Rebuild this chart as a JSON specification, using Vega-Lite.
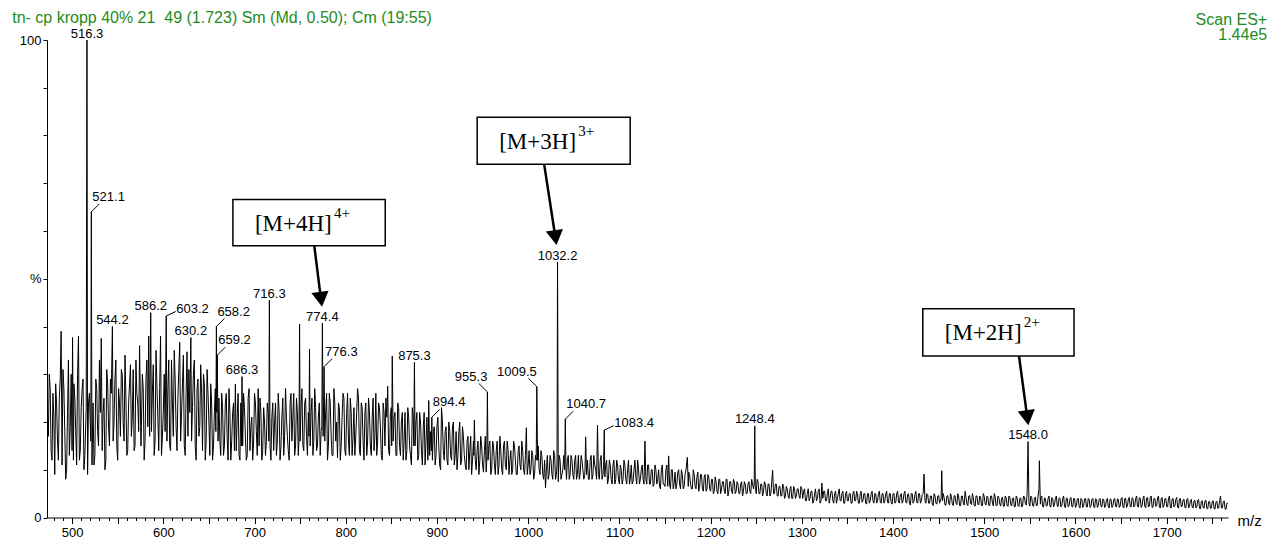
{
"$schema": "https://vega.github.io/schema/vega-lite/v6.json",
"width": 1181, "height": 477.5,
"autosize": "none",
"padding": {"left": 47, "top": 40, "right": 47, "bottom": 24.5},
"background": "white",
"config": {"view": {"stroke": null}, "axis": {"labelFont": "Liberation Sans", "titleFont": "Liberation Sans", "labelColor": "black", "tickColor": "black", "domainColor": "black", "grid": false, "ticks": true, "tickWidth": 1, "tickOpacity": 1, "domainWidth": 1}, "text": {"font": "Liberation Sans"}},
"datasets": {
"spec": [
{"mz":473,"i":22},{"mz":475,"i":30},{"mz":477,"i":14},{"mz":479,"i":26},{"mz":481,"i":9},{"mz":483,"i":24},{"mz":485,"i":12},{"mz":487,"i":29},{"mz":488,"i":39},{"mz":489,"i":11},
{"mz":491,"i":27},{"mz":493,"i":8},{"mz":495,"i":22},{"mz":497,"i":13},{"mz":499,"i":30},{"mz":500.5,"i":37.7},{"mz":501.5,"i":12},{"mz":503,"i":25},{"mz":505,"i":11},{"mz":507,"i":38},
{"mz":509,"i":14},{"mz":511,"i":27},{"mz":513,"i":10},{"mz":515.5,"i":23},{"mz":516.3,"i":100},{"mz":517,"i":9},{"mz":519,"i":26},{"mz":520.5,"i":16},{"mz":521.1,"i":64},{"mz":521.8,"i":11},
{"mz":523,"i":24},{"mz":525,"i":13},{"mz":527,"i":27},{"mz":529,"i":15},{"mz":531,"i":22},{"mz":532,"i":37.5},{"mz":533,"i":14},{"mz":535,"i":25},{"mz":537,"i":12},{"mz":539,"i":28},
{"mz":541,"i":15},{"mz":543,"i":26},{"mz":544.2,"i":40},{"mz":545,"i":16},{"mz":547,"i":29},{"mz":549,"i":15},{"mz":551,"i":27},{"mz":553,"i":17},{"mz":555,"i":30},{"mz":557,"i":16},
{"mz":559,"i":25},{"mz":561,"i":14},{"mz":563,"i":28},{"mz":565,"i":17},{"mz":567,"i":31},{"mz":569,"i":15},{"mz":571,"i":26},{"mz":573,"i":18},{"mz":574,"i":36},{"mz":575.5,"i":15},
{"mz":577,"i":30},{"mz":579,"i":12},{"mz":581,"i":29},{"mz":583,"i":19},{"mz":584,"i":38},{"mz":585,"i":17},{"mz":586.2,"i":42.9},{"mz":587,"i":18},{"mz":589,"i":32},{"mz":591,"i":16},
{"mz":593,"i":28},{"mz":595,"i":14},{"mz":597,"i":38},{"mz":599,"i":17},{"mz":601,"i":30},{"mz":602,"i":18},{"mz":603.2,"i":42.2},{"mz":604,"i":16},{"mz":605,"i":27},{"mz":607,"i":15},
{"mz":609,"i":33},{"mz":611,"i":17},{"mz":613,"i":29},{"mz":615,"i":14},{"mz":617,"i":31},{"mz":618,"i":36.7},{"mz":619,"i":16},{"mz":621,"i":28},{"mz":623,"i":15},{"mz":625,"i":26},
{"mz":626,"i":34.7},{"mz":627,"i":17},{"mz":629,"i":22},{"mz":630.2,"i":37.7},{"mz":631,"i":16},{"mz":633,"i":30},{"mz":635,"i":15},{"mz":637,"i":27},{"mz":639,"i":17},{"mz":641,"i":32},
{"mz":643,"i":14},{"mz":645,"i":28},{"mz":647,"i":16},{"mz":649,"i":26},{"mz":651,"i":13},{"mz":653,"i":24},{"mz":655,"i":15},{"mz":657,"i":27},{"mz":657.6,"i":18},{"mz":658.2,"i":40},
{"mz":658.7,"i":22},{"mz":659.2,"i":34},{"mz":660,"i":16},{"mz":661,"i":25},{"mz":663,"i":13},{"mz":665,"i":23},{"mz":667,"i":15},{"mz":669,"i":26},{"mz":671,"i":12},{"mz":673,"i":22},
{"mz":675,"i":16},{"mz":677,"i":24},{"mz":678,"i":14},{"mz":679,"i":27.9},{"mz":680,"i":14},{"mz":681,"i":21},{"mz":683,"i":13},{"mz":685,"i":24},{"mz":685.6,"i":15},{"mz":686.3,"i":29.5},
{"mz":687,"i":15},{"mz":689,"i":23},{"mz":691,"i":12},{"mz":693,"i":25},{"mz":695,"i":14},{"mz":697,"i":21},{"mz":699,"i":16},{"mz":701,"i":24},{"mz":703,"i":13},{"mz":704,"i":27},
{"mz":705,"i":15},{"mz":707,"i":22},{"mz":709,"i":14},{"mz":711,"i":20},{"mz":713,"i":16},{"mz":715,"i":22},{"mz":715.7,"i":16},{"mz":716.3,"i":45.5},{"mz":717,"i":15},{"mz":719,"i":21},
{"mz":721,"i":14},{"mz":723,"i":24},{"mz":725,"i":16},{"mz":727,"i":22},{"mz":729,"i":15},{"mz":731,"i":25},{"mz":733,"i":17},{"mz":735,"i":21},{"mz":737,"i":14},{"mz":739,"i":24},
{"mz":741,"i":16},{"mz":743,"i":26},{"mz":745,"i":15},{"mz":747,"i":22},{"mz":748.7,"i":16},{"mz":749.4,"i":40.5},{"mz":750,"i":16},{"mz":751,"i":23},{"mz":753,"i":15},{"mz":755,"i":24},
{"mz":757,"i":17},{"mz":759,"i":22},{"mz":759.7,"i":17},{"mz":760.3,"i":35.3},{"mz":761,"i":15},{"mz":763,"i":25},{"mz":765,"i":16},{"mz":767,"i":23},{"mz":769,"i":15},{"mz":771,"i":24},
{"mz":773,"i":18},{"mz":773.8,"i":19},{"mz":774.4,"i":40.7},{"mz":775.2,"i":17},{"mz":776.3,"i":31.6},{"mz":777,"i":16},{"mz":779,"i":26},{"mz":781,"i":15},{"mz":783,"i":24},{"mz":785,"i":13},
{"mz":787,"i":27},{"mz":789,"i":16},{"mz":791,"i":12.5},{"mz":793,"i":23},{"mz":795,"i":15},{"mz":797,"i":26},{"mz":799,"i":14},{"mz":801,"i":22},{"mz":803,"i":16},{"mz":805,"i":25},
{"mz":807,"i":13},{"mz":809,"i":23},{"mz":811,"i":17},{"mz":813,"i":27},{"mz":815,"i":14},{"mz":817,"i":24},{"mz":819,"i":16},{"mz":821,"i":22},{"mz":823,"i":13},{"mz":825,"i":25},
{"mz":827,"i":15},{"mz":829,"i":21},{"mz":831,"i":14},{"mz":833,"i":26},{"mz":835,"i":16},{"mz":837,"i":23},{"mz":839,"i":13},{"mz":841,"i":24},{"mz":843,"i":15},{"mz":845,"i":21},
{"mz":846,"i":27.5},{"mz":847,"i":14},{"mz":849,"i":22},{"mz":850.4,"i":15},{"mz":851,"i":33.8},{"mz":852,"i":16},{"mz":853,"i":21},{"mz":855,"i":13},{"mz":857,"i":24},{"mz":859,"i":15},
{"mz":861,"i":20},{"mz":863,"i":12},{"mz":865,"i":22},{"mz":867,"i":14},{"mz":869,"i":21},{"mz":871,"i":13},{"mz":873,"i":23},{"mz":874.6,"i":15},{"mz":875.3,"i":32.5},{"mz":876,"i":15},
{"mz":877,"i":20},{"mz":879,"i":12},{"mz":881,"i":22},{"mz":883,"i":14},{"mz":885,"i":19},{"mz":887,"i":11},{"mz":889,"i":21},{"mz":890.4,"i":14},{"mz":891,"i":24.5},{"mz":892,"i":13},
{"mz":893,"i":18},{"mz":893.8,"i":14},{"mz":894.4,"i":21},{"mz":895,"i":12},{"mz":897,"i":19},{"mz":899,"i":13},{"mz":901,"i":21},{"mz":903,"i":11},{"mz":905,"i":23},{"mz":907,"i":14},
{"mz":909,"i":18},{"mz":911,"i":12},{"mz":913,"i":20},{"mz":915,"i":13},{"mz":917,"i":19},{"mz":919,"i":11},{"mz":921,"i":18},{"mz":923,"i":13},{"mz":925,"i":20},{"mz":927,"i":12},
{"mz":929,"i":17},{"mz":931,"i":11},{"mz":933,"i":16},{"mz":935,"i":10},{"mz":937,"i":17},{"mz":939,"i":12},{"mz":940.4,"i":13},{"mz":941,"i":20.4},{"mz":942,"i":12},{"mz":943,"i":10},
{"mz":945,"i":16},{"mz":947,"i":12},{"mz":949,"i":15},{"mz":951,"i":9.5},{"mz":953,"i":17},{"mz":954.6,"i":12},{"mz":955.3,"i":26.3},{"mz":956,"i":12},{"mz":957,"i":15},{"mz":959,"i":9},
{"mz":961,"i":16},{"mz":963,"i":11},{"mz":965,"i":14},{"mz":967,"i":9},{"mz":969,"i":17},{"mz":971,"i":10},{"mz":973,"i":15},{"mz":975,"i":11},{"mz":977,"i":16},{"mz":979,"i":9},
{"mz":981,"i":14},{"mz":983,"i":10},{"mz":985,"i":15},{"mz":987,"i":9},{"mz":989,"i":14},{"mz":991,"i":11},{"mz":993,"i":16},{"mz":995,"i":10},{"mz":997,"i":13},{"mz":998,"i":18.8},
{"mz":999,"i":9},{"mz":1001,"i":14},{"mz":1003,"i":10},{"mz":1005,"i":13},{"mz":1007,"i":9},{"mz":1008.8,"i":12},{"mz":1009.5,"i":27.4},{"mz":1010.3,"i":12},{"mz":1011,"i":15},{"mz":1013,"i":9},
{"mz":1015,"i":13},{"mz":1017,"i":8},{"mz":1019,"i":6.2},{"mz":1021,"i":13},{"mz":1023,"i":9},{"mz":1025,"i":12},{"mz":1027,"i":8},{"mz":1029,"i":13},{"mz":1031,"i":9},{"mz":1031.6,"i":11},
{"mz":1032.2,"i":53.5},{"mz":1033,"i":7.5},{"mz":1035,"i":12},{"mz":1037,"i":9},{"mz":1039,"i":13},{"mz":1040,"i":10},{"mz":1040.7,"i":20.6},{"mz":1041.5,"i":10},{"mz":1043,"i":12},{"mz":1045,"i":8},
{"mz":1047,"i":13},{"mz":1049,"i":9},{"mz":1051,"i":12},{"mz":1053,"i":8},{"mz":1055,"i":13},{"mz":1057,"i":9},{"mz":1059,"i":12},{"mz":1061,"i":8},{"mz":1062.3,"i":10},{"mz":1063,"i":16.9},
{"mz":1064,"i":9},{"mz":1065,"i":12},{"mz":1067,"i":8},{"mz":1069,"i":13},{"mz":1071,"i":9},{"mz":1073,"i":11},{"mz":1075,"i":8},{"mz":1076,"i":19.3},{"mz":1077,"i":9},{"mz":1079,"i":12},
{"mz":1081,"i":8},{"mz":1082.7,"i":11},{"mz":1083.4,"i":18.3},{"mz":1084,"i":8.5},{"mz":1085,"i":11},{"mz":1087,"i":7},{"mz":1089,"i":12},{"mz":1091,"i":8},{"mz":1093,"i":11},{"mz":1095,"i":7},
{"mz":1097,"i":12},{"mz":1099,"i":8},{"mz":1101,"i":11},{"mz":1103,"i":7},{"mz":1105,"i":12},{"mz":1107,"i":8},{"mz":1109,"i":10},{"mz":1111,"i":7},{"mz":1113,"i":11},{"mz":1115,"i":7.5},
{"mz":1117,"i":12},{"mz":1119,"i":7},{"mz":1121,"i":10},{"mz":1123,"i":8},{"mz":1125,"i":11},{"mz":1127,"i":7},{"mz":1128,"i":16},{"mz":1129,"i":8},{"mz":1131,"i":11},{"mz":1133,"i":7},
{"mz":1135,"i":10},{"mz":1137,"i":6.5},{"mz":1139,"i":11},{"mz":1141,"i":7},{"mz":1143,"i":10},{"mz":1145,"i":6},{"mz":1147,"i":11},{"mz":1149,"i":7},{"mz":1151,"i":10},{"mz":1153,"i":6.5},
{"mz":1154,"i":12.9},{"mz":1155,"i":7},{"mz":1157,"i":10},{"mz":1159,"i":6},{"mz":1161,"i":9.5},{"mz":1163,"i":7},{"mz":1165,"i":10},{"mz":1167,"i":6},{"mz":1169,"i":9},{"mz":1171,"i":6.5},
{"mz":1173,"i":10},{"mz":1174.5,"i":12.6},{"mz":1175.5,"i":6.5},{"mz":1177,"i":9},{"mz":1179,"i":6},{"mz":1181,"i":10},{"mz":1183,"i":6.5},{"mz":1185,"i":8.5},{"mz":1187,"i":5.5},{"mz":1189,"i":9},
{"mz":1191,"i":6},{"mz":1193,"i":8.5},{"mz":1195,"i":5.5},{"mz":1197,"i":9},{"mz":1199,"i":6},{"mz":1201,"i":8},{"mz":1203,"i":5},{"mz":1205,"i":8.5},{"mz":1207,"i":5.5},{"mz":1209,"i":8},
{"mz":1211,"i":5},{"mz":1213,"i":7.5},{"mz":1215,"i":5.5},{"mz":1217,"i":8},{"mz":1219,"i":4.5},{"mz":1221,"i":7.5},{"mz":1223,"i":5.5},{"mz":1225,"i":8},{"mz":1227,"i":5},{"mz":1229,"i":7.5},
{"mz":1231,"i":5},{"mz":1233,"i":7},{"mz":1235,"i":4.5},{"mz":1237,"i":7.5},{"mz":1239,"i":5},{"mz":1241,"i":7},{"mz":1243,"i":5.5},{"mz":1245,"i":8},{"mz":1247,"i":6},{"mz":1247.8,"i":7},
{"mz":1248.4,"i":19.2},{"mz":1249,"i":6.5},{"mz":1251,"i":8},{"mz":1253,"i":5},{"mz":1255,"i":7},{"mz":1257,"i":4.5},{"mz":1259,"i":7.5},{"mz":1261,"i":5},{"mz":1263,"i":7},{"mz":1265,"i":4.5},
{"mz":1267,"i":7.5},{"mz":1268,"i":9.9},{"mz":1269,"i":5},{"mz":1271,"i":7},{"mz":1273,"i":4.5},{"mz":1275,"i":6.5},{"mz":1277,"i":4.5},{"mz":1279,"i":7},{"mz":1281,"i":4},{"mz":1283,"i":6.5},
{"mz":1285,"i":4.5},{"mz":1287,"i":6},{"mz":1289,"i":4},{"mz":1291,"i":6.5},{"mz":1293,"i":4},{"mz":1295,"i":6},{"mz":1297,"i":4.5},{"mz":1299,"i":6.5},{"mz":1301,"i":4},{"mz":1303,"i":6},
{"mz":1305,"i":3.5},{"mz":1307,"i":6},{"mz":1309,"i":4},{"mz":1311,"i":5.5},{"mz":1313,"i":3.5},{"mz":1315,"i":6},{"mz":1317,"i":4},{"mz":1319,"i":6},{"mz":1321,"i":3.5},{"mz":1322,"i":7.2},
{"mz":1323,"i":4},{"mz":1325,"i":5.5},{"mz":1327,"i":3.5},{"mz":1329,"i":6},{"mz":1331,"i":4},{"mz":1333,"i":5.5},{"mz":1335,"i":3},{"mz":1337,"i":5.5},{"mz":1339,"i":4},{"mz":1341,"i":6},
{"mz":1343,"i":3.5},{"mz":1345,"i":5.5},{"mz":1347,"i":3},{"mz":1349,"i":5.5},{"mz":1351,"i":3.5},{"mz":1353,"i":5},{"mz":1355,"i":3},{"mz":1357,"i":5.5},{"mz":1359,"i":3.5},{"mz":1361,"i":5},
{"mz":1363,"i":3},{"mz":1365,"i":5.5},{"mz":1367,"i":3.5},{"mz":1369,"i":5},{"mz":1371,"i":2.8},{"mz":1373,"i":5},{"mz":1375,"i":3.5},{"mz":1377,"i":5.5},{"mz":1379,"i":3},{"mz":1381,"i":5},
{"mz":1383,"i":3.5},{"mz":1385,"i":5.5},{"mz":1387,"i":3},{"mz":1389,"i":5},{"mz":1391,"i":3.5},{"mz":1393,"i":5.5},{"mz":1395,"i":3},{"mz":1397,"i":5},{"mz":1399,"i":2.8},{"mz":1401,"i":5},
{"mz":1403,"i":3.2},{"mz":1405,"i":5.5},{"mz":1407,"i":3},{"mz":1409,"i":5},{"mz":1411,"i":3.5},{"mz":1413,"i":5.5},{"mz":1415,"i":3},{"mz":1417,"i":5},{"mz":1419,"i":2.6},{"mz":1421,"i":5},
{"mz":1423,"i":3.5},{"mz":1425,"i":5.5},{"mz":1427,"i":3},{"mz":1429,"i":5},{"mz":1431,"i":3.5},{"mz":1433,"i":5},{"mz":1434,"i":9.1},{"mz":1435,"i":3.5},{"mz":1437,"i":5},{"mz":1439,"i":3},
{"mz":1441,"i":4.5},{"mz":1443,"i":2.8},{"mz":1445,"i":5},{"mz":1447,"i":3},{"mz":1449,"i":4.5},{"mz":1451,"i":3},{"mz":1452.7,"i":4},{"mz":1453.4,"i":9.8},{"mz":1454.2,"i":3.5},{"mz":1455,"i":5},
{"mz":1457,"i":2.6},{"mz":1459,"i":4.5},{"mz":1461,"i":3},{"mz":1463,"i":5},{"mz":1465,"i":2.8},{"mz":1467,"i":4.5},{"mz":1469,"i":3},{"mz":1471,"i":5},{"mz":1473,"i":2.5},{"mz":1475,"i":4.5},
{"mz":1477,"i":3},{"mz":1479,"i":5.5},{"mz":1481,"i":2.8},{"mz":1483,"i":4.5},{"mz":1485,"i":3},{"mz":1487,"i":5},{"mz":1489,"i":2.5},{"mz":1491,"i":4.5},{"mz":1493,"i":2.8},{"mz":1495,"i":4.5},
{"mz":1497,"i":2.5},{"mz":1499,"i":5},{"mz":1501,"i":2.8},{"mz":1503,"i":4.5},{"mz":1505,"i":2.5},{"mz":1507,"i":4.5},{"mz":1509,"i":3},{"mz":1511,"i":5},{"mz":1513,"i":2.5},{"mz":1515,"i":4.5},
{"mz":1517,"i":2.8},{"mz":1519,"i":4},{"mz":1521,"i":2.3},{"mz":1523,"i":4.5},{"mz":1525,"i":2.5},{"mz":1527,"i":4.5},{"mz":1529,"i":2.8},{"mz":1531,"i":4},{"mz":1533,"i":2.2},{"mz":1535,"i":4.5},
{"mz":1537,"i":2.5},{"mz":1539,"i":4},{"mz":1541,"i":2.2},{"mz":1543,"i":4.5},{"mz":1545,"i":3},{"mz":1547,"i":5},{"mz":1548,"i":15.9},{"mz":1549,"i":3},{"mz":1551,"i":4.5},{"mz":1553,"i":2.5},
{"mz":1555,"i":4},{"mz":1557,"i":2.5},{"mz":1559,"i":4.5},{"mz":1560.4,"i":11.9},{"mz":1561.5,"i":2.8},{"mz":1563,"i":4.5},{"mz":1565,"i":2.2},{"mz":1567,"i":4},{"mz":1569,"i":2.5},{"mz":1571,"i":4.5},
{"mz":1573,"i":2.2},{"mz":1575,"i":4},{"mz":1577,"i":2.8},{"mz":1579,"i":4.5},{"mz":1581,"i":2.3},{"mz":1583,"i":4},{"mz":1585,"i":2.5},{"mz":1587,"i":4.5},{"mz":1589,"i":2},{"mz":1591,"i":4},
{"mz":1593,"i":2.5},{"mz":1595,"i":4.2},{"mz":1597,"i":2.2},{"mz":1599,"i":4},{"mz":1601,"i":2.5},{"mz":1603,"i":4},{"mz":1605,"i":2},{"mz":1607,"i":3.8},{"mz":1609,"i":2.5},{"mz":1611,"i":4},
{"mz":1613,"i":2.2},{"mz":1615,"i":3.8},{"mz":1617,"i":2.4},{"mz":1619,"i":4},{"mz":1621,"i":2},{"mz":1623,"i":3.8},{"mz":1625,"i":2.5},{"mz":1627,"i":4},{"mz":1629,"i":2.2},{"mz":1631,"i":3.7},
{"mz":1633,"i":2.4},{"mz":1635,"i":4},{"mz":1637,"i":2},{"mz":1639,"i":3.8},{"mz":1641,"i":2.5},{"mz":1643,"i":4},{"mz":1645,"i":2.2},{"mz":1647,"i":3.8},{"mz":1649,"i":2.4},{"mz":1651,"i":4.2},
{"mz":1653,"i":2},{"mz":1655,"i":4},{"mz":1657,"i":2.5},{"mz":1659,"i":4.2},{"mz":1661,"i":2.2},{"mz":1663,"i":4},{"mz":1665,"i":2.5},{"mz":1667,"i":4.5},{"mz":1669,"i":2.2},{"mz":1671,"i":4},
{"mz":1673,"i":2.5},{"mz":1675,"i":4.5},{"mz":1677,"i":2},{"mz":1679,"i":4.2},{"mz":1681,"i":2.4},{"mz":1683,"i":4.5},{"mz":1685,"i":2.2},{"mz":1687,"i":4},{"mz":1689,"i":2.5},{"mz":1691,"i":4.5},
{"mz":1693,"i":2},{"mz":1695,"i":4.2},{"mz":1697,"i":2.4},{"mz":1699,"i":4},{"mz":1701,"i":2.2},{"mz":1703,"i":4.5},{"mz":1705,"i":2},{"mz":1707,"i":4},{"mz":1709,"i":2.5},{"mz":1711,"i":4.2},
{"mz":1713,"i":2},{"mz":1715,"i":4},{"mz":1717,"i":2.4},{"mz":1719,"i":3.8},{"mz":1721,"i":2},{"mz":1723,"i":4},{"mz":1725,"i":2.3},{"mz":1727,"i":3.8},{"mz":1729,"i":2},{"mz":1731,"i":3.6},
{"mz":1733,"i":2.2},{"mz":1735,"i":3.8},{"mz":1737,"i":1.8},{"mz":1739,"i":3.5},{"mz":1741,"i":2},{"mz":1743,"i":3.6},{"mz":1745,"i":1.8},{"mz":1747,"i":3.4},{"mz":1749,"i":2},{"mz":1751,"i":3.5},
{"mz":1753,"i":1.8},{"mz":1755,"i":3.4},{"mz":1757,"i":2},{"mz":1759,"i":4.5},{"mz":1761,"i":2},{"mz":1763,"i":3.5},{"mz":1765,"i":1.7},{"mz":1767,"i":3},
{"mz":474,"i":17},{"mz":476,"i":27},{"mz":478,"i":12},{"mz":480,"i":21},{"mz":482,"i":28},{"mz":484,"i":16},{"mz":486,"i":25},{"mz":490,"i":31},{"mz":492,"i":18},{"mz":494,"i":10},
{"mz":496,"i":33},{"mz":498,"i":19},{"mz":500,"i":14},{"mz":502,"i":28},{"mz":504,"i":18},{"mz":506,"i":30},{"mz":508,"i":12},{"mz":510,"i":23},{"mz":512,"i":29},{"mz":514,"i":13},
{"mz":518,"i":24},{"mz":524,"i":11},{"mz":526,"i":29},{"mz":528,"i":18},{"mz":530,"i":33},{"mz":534,"i":22},{"mz":536,"i":10},{"mz":538,"i":31},{"mz":540,"i":19},
{"mz":542,"i":29},{"mz":546,"i":20},{"mz":548,"i":33},{"mz":550,"i":12},{"mz":552,"i":24},{"mz":554,"i":31},{"mz":556,"i":20},{"mz":558,"i":34},{"mz":560,"i":13},{"mz":562,"i":24},
{"mz":564,"i":32},{"mz":566,"i":21},{"mz":568,"i":14},{"mz":570,"i":33},{"mz":572,"i":24},{"mz":576,"i":19},{"mz":578,"i":27},{"mz":580,"i":16},{"mz":582,"i":33},{"mz":588,"i":26},
{"mz":590,"i":13},{"mz":592,"i":35},{"mz":594,"i":21},{"mz":596,"i":27},{"mz":598,"i":13},{"mz":600,"i":22},
{"mz":606,"i":33},{"mz":608,"i":14},{"mz":610,"i":24},{"mz":612,"i":35},{"mz":614,"i":19},{"mz":616,"i":25},{"mz":620,"i":22},{"mz":622,"i":34},{"mz":624,"i":13},{"mz":628,"i":31},
{"mz":632,"i":23},{"mz":634,"i":33},{"mz":636,"i":12},{"mz":638,"i":29},{"mz":640,"i":19},{"mz":642,"i":26},{"mz":644,"i":30},{"mz":646,"i":12},{"mz":648,"i":31},{"mz":650,"i":20},
{"mz":652,"i":28},{"mz":654,"i":12},{"mz":656,"i":22},
{"mz":662,"i":16},{"mz":664,"i":26},{"mz":666,"i":13},{"mz":668,"i":24},{"mz":670,"i":17},{"mz":672,"i":27},{"mz":674,"i":12},{"mz":676,"i":22},{"mz":682,"i":26},{"mz":684,"i":12},
{"mz":688,"i":26},{"mz":690,"i":17},{"mz":692,"i":13},{"mz":694,"i":27},{"mz":696,"i":19},{"mz":698,"i":12},{"mz":700,"i":26},{"mz":702,"i":18},{"mz":706,"i":25},{"mz":708,"i":12},
{"mz":710,"i":23},{"mz":712,"i":13},{"mz":714,"i":24},{"mz":718,"i":12},{"mz":720,"i":24},
{"mz":722,"i":20},{"mz":724,"i":13},{"mz":726,"i":26},{"mz":728,"i":12},{"mz":730,"i":21},{"mz":732,"i":13},{"mz":734,"i":27},{"mz":736,"i":17},{"mz":738,"i":12},{"mz":740,"i":26},
{"mz":742,"i":21},{"mz":744,"i":13},{"mz":746,"i":25},{"mz":748,"i":13},{"mz":752,"i":27},{"mz":754,"i":14},{"mz":756,"i":25},{"mz":758,"i":13},{"mz":762,"i":22},{"mz":764,"i":13},
{"mz":766,"i":27},{"mz":768,"i":14},{"mz":770,"i":21},{"mz":772,"i":13},{"mz":778,"i":22},{"mz":780,"i":12},{"mz":782,"i":26},{"mz":784,"i":17},{"mz":786,"i":13},{"mz":788,"i":24},
{"mz":790,"i":20},{"mz":792,"i":24},{"mz":794,"i":12},{"mz":796,"i":21},{"mz":798,"i":25},{"mz":800,"i":13},{"mz":802,"i":26},{"mz":804,"i":13},{"mz":806,"i":22},{"mz":808,"i":17},
{"mz":810,"i":13},{"mz":812,"i":22},{"mz":814,"i":25},{"mz":816,"i":13},{"mz":818,"i":23},{"mz":820,"i":12},{"mz":822,"i":24},{"mz":824,"i":16},{"mz":826,"i":22},{"mz":828,"i":13},
{"mz":830,"i":25},{"mz":832,"i":17},{"mz":834,"i":13},{"mz":836,"i":24},{"mz":838,"i":19},{"mz":840,"i":12},{"mz":842,"i":22},{"mz":844,"i":25},{"mz":848,"i":13},{"mz":850,"i":23},
{"mz":854,"i":22},{"mz":856,"i":13},{"mz":858,"i":23},{"mz":860,"i":13},
{"mz":862,"i":22},{"mz":864,"i":16},{"mz":866,"i":12},{"mz":868,"i":23},{"mz":870,"i":15},{"mz":872,"i":11},{"mz":874,"i":21},{"mz":878,"i":22},{"mz":880,"i":13},{"mz":882,"i":20},
{"mz":884,"i":11},{"mz":886,"i":22},{"mz":888,"i":16},{"mz":890,"i":12},{"mz":896,"i":18},{"mz":898,"i":11},{"mz":900,"i":19},{"mz":902,"i":15},{"mz":904,"i":10},{"mz":906,"i":20},
{"mz":908,"i":12},{"mz":910,"i":19},{"mz":912,"i":11},{"mz":914,"i":18},{"mz":916,"i":12},{"mz":918,"i":20},{"mz":920,"i":13},{"mz":922,"i":10},{"mz":924,"i":18},{"mz":926,"i":11},
{"mz":928,"i":19},{"mz":930,"i":13},
{"mz":932,"i":10},{"mz":934,"i":17},{"mz":936,"i":14},{"mz":938,"i":9},{"mz":940,"i":16},{"mz":944,"i":14},{"mz":946,"i":9},{"mz":948,"i":17},{"mz":950,"i":11},{"mz":952,"i":14},
{"mz":954,"i":9.5},{"mz":958,"i":16},{"mz":960,"i":10},{"mz":962,"i":15},{"mz":964,"i":9},{"mz":966,"i":16},{"mz":968,"i":11},{"mz":970,"i":14},{"mz":972,"i":9},{"mz":974,"i":16},
{"mz":976,"i":10},{"mz":978,"i":14},{"mz":980,"i":12},{"mz":982,"i":9},{"mz":984,"i":16},{"mz":986,"i":12},{"mz":988,"i":9},{"mz":990,"i":15},{"mz":992,"i":10},{"mz":994,"i":14},
{"mz":996,"i":9},{"mz":1000,"i":11},
{"mz":1002,"i":9},{"mz":1004,"i":14},{"mz":1006,"i":8},{"mz":1008,"i":13},{"mz":1012,"i":10},{"mz":1014,"i":14},{"mz":1016,"i":9},{"mz":1018,"i":12},{"mz":1020,"i":10},{"mz":1022,"i":8},
{"mz":1024,"i":13},{"mz":1026,"i":9},{"mz":1028,"i":14},{"mz":1030,"i":8},
{"mz":1034,"i":13},{"mz":1036,"i":8},{"mz":1038,"i":10},{"mz":1042,"i":8},{"mz":1044,"i":13},{"mz":1046,"i":9},{"mz":1048,"i":12},{"mz":1050,"i":8},{"mz":1052,"i":13},{"mz":1054,"i":9},
{"mz":1056,"i":8},{"mz":1058,"i":13},{"mz":1060,"i":10},{"mz":1062,"i":9},{"mz":1066,"i":8},{"mz":1068,"i":12},{"mz":1070,"i":8},{"mz":1072,"i":13},{"mz":1074,"i":10},{"mz":1078,"i":8},
{"mz":1080,"i":13},{"mz":1082,"i":9},{"mz":1086,"i":12},{"mz":1088,"i":8},{"mz":1090,"i":11},{"mz":1092,"i":7},{"mz":1094,"i":12},{"mz":1096,"i":8},{"mz":1098,"i":11},{"mz":1100,"i":7},
{"mz":1102,"i":10},{"mz":1104,"i":8},{"mz":1106,"i":11},{"mz":1108,"i":7},{"mz":1110,"i":12},{"mz":1112,"i":8},{"mz":1114,"i":7},{"mz":1116,"i":10},{"mz":1118,"i":8.5},{"mz":1120,"i":12},
{"mz":1122,"i":7},{"mz":1124,"i":10},{"mz":1126,"i":8},{"mz":1130,"i":7},{"mz":1132,"i":11},{"mz":1134,"i":7},{"mz":1136,"i":10},{"mz":1138,"i":7},{"mz":1140,"i":10},{"mz":1142,"i":8},
{"mz":1144,"i":6.5},{"mz":1146,"i":10},{"mz":1148,"i":7},{"mz":1150,"i":6.5},{"mz":1152,"i":11},{"mz":1156,"i":6},{"mz":1158,"i":10},{"mz":1160,"i":7},{"mz":1162,"i":6},{"mz":1164,"i":9.5},
{"mz":1166,"i":7},{"mz":1168,"i":10},{"mz":1170,"i":6},{"mz":1172,"i":9},{"mz":1176,"i":9.5},{"mz":1178,"i":7},{"mz":1180,"i":6},{"mz":1182,"i":9},{"mz":1184,"i":6},{"mz":1186,"i":9.5},
{"mz":1188,"i":6.5},{"mz":1190,"i":9},{"mz":1192,"i":5.5},{"mz":1194,"i":9},{"mz":1196,"i":6},{"mz":1198,"i":8.5},{"mz":1200,"i":5.5},
{"mz":1202,"i":8},{"mz":1204,"i":5.5},{"mz":1206,"i":7.5},{"mz":1208,"i":5},{"mz":1210,"i":8},{"mz":1212,"i":6},{"mz":1214,"i":7.5},{"mz":1216,"i":5},{"mz":1218,"i":8},{"mz":1220,"i":5.5},
{"mz":1222,"i":7.5},{"mz":1224,"i":5},{"mz":1226,"i":7.5},{"mz":1228,"i":5.5},{"mz":1230,"i":7},{"mz":1232,"i":5},{"mz":1234,"i":7.5},{"mz":1236,"i":5.5},{"mz":1238,"i":7},{"mz":1240,"i":5},
{"mz":1242,"i":7.5},{"mz":1244,"i":5},{"mz":1246,"i":7},{"mz":1250,"i":5},{"mz":1252,"i":7.5},{"mz":1254,"i":5},{"mz":1256,"i":7},{"mz":1258,"i":5.5},{"mz":1260,"i":7},{"mz":1262,"i":4.5},
{"mz":1264,"i":7},{"mz":1266,"i":5},{"mz":1270,"i":5},{"mz":1272,"i":7},{"mz":1274,"i":4.5},{"mz":1276,"i":6.5},{"mz":1278,"i":4.5},{"mz":1280,"i":6.5},{"mz":1282,"i":4.5},{"mz":1284,"i":6},
{"mz":1286,"i":4},{"mz":1288,"i":6.5},{"mz":1290,"i":4},{"mz":1292,"i":6},{"mz":1294,"i":4.5},{"mz":1296,"i":6},{"mz":1298,"i":4},{"mz":1300,"i":6},
{"mz":1302,"i":5.5},{"mz":1304,"i":3.5},{"mz":1306,"i":5},{"mz":1308,"i":3.5},{"mz":1310,"i":5.5},{"mz":1312,"i":3},{"mz":1314,"i":5},{"mz":1316,"i":3.5},{"mz":1318,"i":5.5},{"mz":1320,"i":3},
{"mz":1324,"i":5.5},{"mz":1326,"i":3.5},{"mz":1328,"i":5},{"mz":1330,"i":3},{"mz":1332,"i":5.5},{"mz":1334,"i":3.5},{"mz":1336,"i":5},{"mz":1338,"i":3},{"mz":1340,"i":5},{"mz":1342,"i":3.5},
{"mz":1344,"i":5},{"mz":1346,"i":3},{"mz":1348,"i":5},{"mz":1350,"i":3.5},{"mz":1352,"i":5},{"mz":1354,"i":3},{"mz":1356,"i":5},{"mz":1358,"i":3.5},{"mz":1360,"i":5.5},{"mz":1362,"i":3},
{"mz":1364,"i":5},{"mz":1366,"i":3.2},{"mz":1368,"i":5},{"mz":1370,"i":3},{"mz":1372,"i":5},{"mz":1374,"i":3},{"mz":1376,"i":5},{"mz":1378,"i":3.5},{"mz":1380,"i":5},{"mz":1382,"i":3},
{"mz":1384,"i":5},{"mz":1386,"i":3.2},{"mz":1388,"i":5},{"mz":1390,"i":3},{"mz":1392,"i":5},{"mz":1394,"i":3.2},{"mz":1396,"i":5},{"mz":1398,"i":3},{"mz":1400,"i":5},{"mz":1402,"i":3},
{"mz":1404,"i":5},{"mz":1406,"i":3.2},{"mz":1408,"i":4.8},{"mz":1410,"i":3},{"mz":1412,"i":5},{"mz":1414,"i":3.2},{"mz":1416,"i":4.8},{"mz":1418,"i":3},{"mz":1420,"i":5},{"mz":1422,"i":3},
{"mz":1424,"i":4.8},{"mz":1426,"i":3.2},{"mz":1428,"i":5},{"mz":1430,"i":3},{"mz":1432,"i":4.8},{"mz":1436,"i":3},{"mz":1438,"i":4.8},{"mz":1440,"i":3},
{"mz":1442,"i":4.5},{"mz":1444,"i":2.5},{"mz":1446,"i":4.5},{"mz":1448,"i":2.8},{"mz":1450,"i":4.6},{"mz":1456,"i":4.2},{"mz":1458,"i":2.6},{"mz":1460,"i":4.6},{"mz":1462,"i":2.6},{"mz":1464,"i":4.4},
{"mz":1466,"i":2.5},{"mz":1468,"i":4.6},{"mz":1470,"i":2.7},{"mz":1472,"i":4.3},{"mz":1474,"i":2.5},{"mz":1476,"i":4.5},{"mz":1478,"i":2.6},{"mz":1480,"i":4.2},{"mz":1482,"i":2.5},{"mz":1484,"i":4.6},
{"mz":1486,"i":2.7},{"mz":1488,"i":4.2},{"mz":1490,"i":2.4},{"mz":1492,"i":4.5},{"mz":1494,"i":2.6},{"mz":1496,"i":4.3},{"mz":1498,"i":2.5},{"mz":1500,"i":4.4},{"mz":1502,"i":2.6},{"mz":1504,"i":4.2},
{"mz":1506,"i":2.5},{"mz":1508,"i":4.5},{"mz":1510,"i":2.4},{"mz":1512,"i":4.3},{"mz":1514,"i":2.5},{"mz":1516,"i":4.2},{"mz":1518,"i":2.4},{"mz":1520,"i":4.3},{"mz":1522,"i":2.4},{"mz":1524,"i":4.1},
{"mz":1526,"i":2.3},{"mz":1528,"i":4.3},{"mz":1530,"i":2.4},{"mz":1532,"i":4.1},{"mz":1534,"i":2.3},{"mz":1536,"i":4.2},{"mz":1538,"i":2.3},{"mz":1540,"i":4.1},{"mz":1542,"i":2.4},{"mz":1544,"i":4.3},
{"mz":1546,"i":2.6},{"mz":1550,"i":2.4},{"mz":1552,"i":4.2},{"mz":1554,"i":2.3},{"mz":1556,"i":4.3},{"mz":1558,"i":2.5},{"mz":1560,"i":6},{"mz":1562,"i":4.2},{"mz":1564,"i":2.3},{"mz":1566,"i":4.1},
{"mz":1568,"i":2.4},{"mz":1570,"i":4},{"mz":1572,"i":2.3},{"mz":1574,"i":4.2},{"mz":1576,"i":2.2},{"mz":1578,"i":4},{"mz":1580,"i":2.4},{"mz":1582,"i":4.1},{"mz":1584,"i":2.2},{"mz":1586,"i":4},
{"mz":1588,"i":2.3},{"mz":1590,"i":4.1},{"mz":1592,"i":2.2},{"mz":1594,"i":3.9},{"mz":1596,"i":2.3},{"mz":1598,"i":4},{"mz":1600,"i":2.1},{"mz":1602,"i":3.9},{"mz":1604,"i":2.3},{"mz":1606,"i":4},
{"mz":1608,"i":2.1},{"mz":1610,"i":3.9},{"mz":1612,"i":2.2},{"mz":1614,"i":4},{"mz":1616,"i":2.1},{"mz":1618,"i":3.8},{"mz":1620,"i":2.3},{"mz":1622,"i":3.9},{"mz":1624,"i":2.1},{"mz":1626,"i":3.8},
{"mz":1628,"i":2.3},{"mz":1630,"i":3.9},{"mz":1632,"i":2.1},{"mz":1634,"i":3.8},{"mz":1636,"i":2.2},{"mz":1638,"i":3.9},{"mz":1640,"i":2.1},{"mz":1642,"i":3.8},{"mz":1644,"i":2.3},{"mz":1646,"i":3.9},
{"mz":1648,"i":2.1},{"mz":1650,"i":3.9},{"mz":1652,"i":2.2},{"mz":1654,"i":4},{"mz":1656,"i":2.1},{"mz":1658,"i":3.9},{"mz":1660,"i":2.3},{"mz":1662,"i":4.1},{"mz":1664,"i":2.2},{"mz":1666,"i":4},
{"mz":1668,"i":2.3},{"mz":1670,"i":4.2},{"mz":1672,"i":2.1},{"mz":1674,"i":4},{"mz":1676,"i":2.3},{"mz":1678,"i":4.1},{"mz":1680,"i":2.2},{"mz":1682,"i":4.2},{"mz":1684,"i":2.1},{"mz":1686,"i":4},
{"mz":1688,"i":2.3},{"mz":1690,"i":4.1},{"mz":1692,"i":2.2},{"mz":1694,"i":4},{"mz":1696,"i":2.1},{"mz":1698,"i":3.9},{"mz":1700,"i":2.3},{"mz":1702,"i":4},{"mz":1704,"i":2.1},{"mz":1706,"i":3.9},
{"mz":1708,"i":2.2},{"mz":1710,"i":3.8},{"mz":1712,"i":2.1},{"mz":1714,"i":3.9},{"mz":1716,"i":2.2},{"mz":1718,"i":3.7},{"mz":1720,"i":2.1},{"mz":1722,"i":3.8},{"mz":1724,"i":2},{"mz":1726,"i":3.6},
{"mz":1728,"i":2.1},{"mz":1730,"i":3.5},{"mz":1732,"i":2},{"mz":1734,"i":3.6},{"mz":1736,"i":1.9},{"mz":1738,"i":3.4},{"mz":1740,"i":2},{"mz":1742,"i":3.5},{"mz":1744,"i":1.9},{"mz":1746,"i":3.3},
{"mz":1748,"i":1.9},{"mz":1750,"i":3.4},{"mz":1752,"i":1.8},{"mz":1754,"i":3.3},{"mz":1756,"i":1.9},{"mz":1758,"i":3.5},{"mz":1760,"i":2},{"mz":1762,"i":3.3},{"mz":1764,"i":1.8},{"mz":1766,"i":3}
],
"labels": [
{"t":"516.3","mz":516.3,"i":100},{"t":"521.1","mz":521.1,"i":64},{"t":"544.2","mz":544.2,"i":40},{"t":"586.2","mz":586.2,"i":42.9},{"t":"603.2","mz":603.2,"i":42.2},
{"t":"630.2","mz":630.2,"i":37.7},{"t":"658.2","mz":658.2,"i":40},{"t":"659.2","mz":659.2,"i":34},{"t":"686.3","mz":686.3,"i":29.5},{"t":"716.3","mz":716.3,"i":45.5},
{"t":"774.4","mz":774.4,"i":40.7},{"t":"776.3","mz":776.3,"i":31.6},{"t":"875.3","mz":875.3,"i":32.5},{"t":"894.4","mz":894.4,"i":21},{"t":"955.3","mz":955.3,"i":26.3},
{"t":"1009.5","mz":1009.5,"i":27.4},{"t":"1032.2","mz":1032.2,"i":53.5},{"t":"1040.7","mz":1040.7,"i":20.6},{"t":"1083.4","mz":1083.4,"i":18.3},{"t":"1248.4","mz":1248.4,"i":19.2},
{"t":"1548.0","mz":1548,"i":15.9}
],
"ions": [
{"ion":"[M+4H]","sup":"4+","x1":676.3,"x2":843.3,"y1":56.9,"y2":66.6,"ax":765.5,"ay":56.9,"hx":772.9,"hy":45.7},
{"ion":"[M+3H]","sup":"3+","x1":944.1,"x2":1111.8,"y1":74.0,"y2":83.8,"ax":1017.5,"ay":74.0,"hx":1029.9,"hy":58.6},
{"ion":"[M+2H]","sup":"2+","x1":1432.6,"x2":1598.4,"y1":33.8,"y2":43.7,"ax":1538.1,"ay":33.8,"hx":1547.2,"hy":20.9}
]
},
"layer": [
{
"data": {"name": "spec"},
"mark": {"type": "line", "color": "black", "strokeWidth": 1, "strokeJoin": "miter"},
"encoding": {
"x": {"field": "mz", "type": "quantitative", "scale": {"domain": [472.5, 1767.2], "nice": false, "zero": false},
 "axis": {"orient": "bottom", "tickCount": 13, "format": "d", "ticks": true, "tickSize": 6,
  "labelPadding": 3, "labelFlush": false, "labelOverlap": false, "labelFontSize": 13,
  "title": "m/z", "titleX": 1190, "titleY": 8, "titleAlign": "left", "titleBaseline": "alphabetic", "titleFontSize": 15, "titleFontWeight": "normal", "titleColor": "black"}},
"y": {"field": "i", "type": "quantitative", "scale": {"domain": [0, 100], "nice": false},
 "axis": {"values": [0,10,20,30,40,50,60,70,80,90,100], "labelExpr": "datum.value === 50 ? '%' : ((datum.value === 0 || datum.value === 100) ? datum.label : '')",
  "ticks": true, "tickSize": 4, "labelPadding": 2, "labelFlush": false, "labelOverlap": false, "labelFontSize": 13,
  "title": "tn- cp kropp 40% 21\u00a0 49 (1.723) Sm (Md, 0.50); Cm (19:55)", "titleAngle": 0, "titleX": -35.3, "titleY": -17.3, "titleAlign": "left", "titleBaseline": "alphabetic",
  "titleFontSize": 16, "titleFontWeight": "normal", "titleColor": "#1e8c1e"}}
}
},
{
"data": {"name": "labels"},
"transform": [{"filter": {"field": "t", "oneOf": ["516.3","544.2","586.2","630.2","686.3","716.3","774.4","875.3","1032.2","1248.4","1548.0"]}}],
"mark": {"type": "text", "align": "center", "baseline": "alphabetic", "dy": -2.5, "fontSize": 13, "color": "black"},
"encoding": {"x": {"field": "mz", "type": "quantitative",
   "axis": {"orient": "bottom", "tickCount": 26, "ticks": true, "tickSize": 6, "labels": false, "domain": false, "title": null, "grid": false}},
  "y": {"field": "i", "type": "quantitative"}, "text": {"field": "t"}}
},
{
"data": {"name": "labels"},
"transform": [{"filter": {"field": "t", "oneOf": ["521.1","658.2","659.2","776.3","894.4","1040.7"]}}],
"mark": {"type": "text", "align": "left", "baseline": "alphabetic", "dx": 1, "dy": -11, "fontSize": 13, "color": "black"},
"encoding": {"x": {"field": "mz", "type": "quantitative",
   "axis": {"orient": "bottom", "tickCount": 130, "ticks": true, "tickSize": 3, "labels": false, "domain": false, "title": null, "grid": false}},
  "y": {"field": "i", "type": "quantitative"}, "text": {"field": "t"}}
},
{
"data": {"name": "labels"},
"transform": [{"filter": {"field": "t", "oneOf": ["521.1","658.2","659.2","776.3","894.4","1040.7"]}}],
"mark": {"type": "rule", "x2Offset": 8, "y2Offset": -8, "color": "black", "strokeWidth": 1},
"encoding": {"x": {"field": "mz", "type": "quantitative", "axis": null}, "y": {"field": "i", "type": "quantitative"}, "x2": {"field": "mz"}, "y2": {"field": "i"}}
},
{
"data": {"name": "labels"},
"transform": [{"filter": {"field": "t", "oneOf": ["603.2","1083.4"]}}],
"mark": {"type": "text", "align": "left", "baseline": "alphabetic", "dx": 10, "dy": -3, "fontSize": 13, "color": "black"},
"encoding": {"x": {"field": "mz", "type": "quantitative", "axis": null}, "y": {"field": "i", "type": "quantitative"}, "text": {"field": "t"}}
},
{
"data": {"name": "labels"},
"transform": [{"filter": {"field": "t", "oneOf": ["603.2","1083.4"]}}],
"mark": {"type": "rule", "x2Offset": 9.5, "y2Offset": -4.5, "color": "black", "strokeWidth": 1},
"encoding": {"x": {"field": "mz", "type": "quantitative", "axis": null}, "y": {"field": "i", "type": "quantitative"}, "x2": {"field": "mz"}, "y2": {"field": "i"}}
},
{
"data": {"name": "labels"},
"transform": [{"filter": {"field": "t", "oneOf": ["955.3","1009.5"]}}],
"mark": {"type": "text", "align": "right", "baseline": "alphabetic", "dx": 0, "dy": -11, "fontSize": 13, "color": "black"},
"encoding": {"x": {"field": "mz", "type": "quantitative", "axis": null}, "y": {"field": "i", "type": "quantitative"}, "text": {"field": "t"}}
},
{
"data": {"name": "labels"},
"transform": [{"filter": {"field": "t", "oneOf": ["955.3","1009.5"]}}],
"mark": {"type": "rule", "x2Offset": -8.5, "y2Offset": -8.4, "color": "black", "strokeWidth": 1},
"encoding": {"x": {"field": "mz", "type": "quantitative", "axis": null}, "y": {"field": "i", "type": "quantitative"}, "x2": {"field": "mz"}, "y2": {"field": "i"}}
},
{
"data": {"name": "ions"},
"mark": {"type": "rect", "fill": "white", "stroke": "black", "strokeWidth": 1.5},
"encoding": {"x": {"field": "x1", "type": "quantitative",
   "axis": {"orient": "top", "domain": false, "ticks": false, "labels": false, "grid": false,
    "title": ["Scan ES+", "1.44e5"], "titleX": 1219.7, "titleY": -16, "titleAlign": "right", "titleBaseline": "alphabetic", "titleAngle": 0,
    "titleFontSize": 16, "titleFontWeight": "normal", "titleColor": "#1e8c1e", "titleLineHeight": 15}},
  "x2": {"field": "x2"}, "y": {"field": "y1", "type": "quantitative"}, "y2": {"field": "y2"}}
},
{
"data": {"name": "ions"},
"mark": {"type": "text", "align": "left", "baseline": "alphabetic", "dx": 22, "dy": 31.5, "font": "Liberation Serif", "fontSize": 23, "color": "black"},
"encoding": {"x": {"field": "x1", "type": "quantitative", "axis": null}, "y": {"field": "y2", "type": "quantitative"}, "text": {"field": "ion"}}
},
{
"data": {"name": "ions"},
"mark": {"type": "text", "align": "left", "baseline": "alphabetic", "dx": 101, "dy": 18.5, "font": "Liberation Serif", "fontSize": 15, "color": "black"},
"encoding": {"x": {"field": "x1", "type": "quantitative", "axis": null}, "y": {"field": "y2", "type": "quantitative"}, "text": {"field": "sup"}}
},
{
"data": {"name": "ions"},
"mark": {"type": "rule", "color": "black", "strokeWidth": 2.5},
"encoding": {"x": {"field": "ax", "type": "quantitative", "axis": null}, "y": {"field": "ay", "type": "quantitative"}, "x2": {"field": "hx"}, "y2": {"field": "hy"}}
},
{
"data": {"name": "ions"},
"mark": {"type": "point", "shape": "triangle-down", "size": 300, "filled": true, "color": "black", "opacity": 1, "angle": -8, "strokeWidth": 0},
"encoding": {"x": {"field": "hx", "type": "quantitative", "axis": null}, "y": {"field": "hy", "type": "quantitative"}}
}
],
"resolve": {"axis": {"x": "independent"}}
}
